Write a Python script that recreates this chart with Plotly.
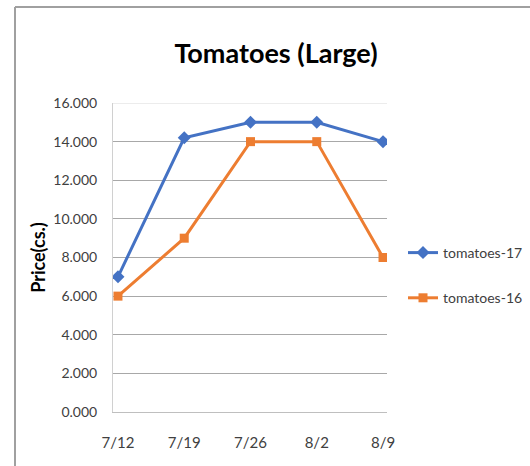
import plotly.graph_objects as go

categories = ["7/12", "7/19", "7/26", "8/2", "8/9"]
tomatoes_17 = [7.0, 14.2, 15.0, 15.0, 14.0]
tomatoes_16 = [6.0, 9.0, 14.0, 14.0, 8.0]
y_ticks = [0, 2, 4, 6, 8, 10, 12, 14, 16]
y_tick_labels = ["0.000", "2.000", "4.000", "6.000", "8.000", "10.000", "12.000", "14.000", "16.000"]

FONT = "Lato, Roboto, sans-serif"

fig = go.Figure()
fig.add_trace(go.Scatter(
    x=list(range(len(categories))), y=tomatoes_17, name="tomatoes-17", mode="lines+markers",
    line=dict(color="#4472C4", width=3), marker=dict(symbol="diamond", size=10, color="#4472C4"),
    legendgroup="a"))
fig.add_trace(go.Scatter(
    x=list(range(len(categories))), y=tomatoes_16, name="tomatoes-16", mode="lines+markers",
    line=dict(color="#ED7D31", width=3), marker=dict(symbol="square", size=9, color="#ED7D31"),
    legendgroup="b"))

W, H = 530, 466
L, R, T, B = 113, 387, 103, 412
pw, ph = R - L, B - T

def px(x):
    return (x - L) / pw

def py(y):
    return (B - y) / ph

fig.update_layout(
    width=W, height=H,
    margin=dict(l=L, r=W - R, t=T, b=H - B, autoexpand=False),
    paper_bgcolor="white", plot_bgcolor="white",
    font=dict(family=FONT, color="#404040", size=14),
    title=dict(text="<b>Tomatoes (Large)</b>", x=276 / W, xref="container", xanchor="center",
               y=1 - 54 / H, yref="container", yanchor="middle",
               font=dict(family=FONT, size=27, color="#000000")),
    legend=dict(x=px(403), y=py(237), xanchor="left", yanchor="top",
                font=dict(family=FONT, size=14, color="#404040"),
                tracegroupgap=24, bgcolor="rgba(0,0,0,0)"),
    showlegend=True,
    xaxis=dict(tickmode="array", tickvals=list(range(len(categories))), ticktext=categories,
               range=[-0.075, 4.06], showgrid=False, zeroline=False,
               showline=True, linecolor="#bfbfbf", linewidth=1,
               ticks="outside", ticklen=17, tickcolor="rgba(0,0,0,0)",
               tickfont=dict(family=FONT, size=15, color="#404040")),
    yaxis=dict(tickmode="array", tickvals=y_ticks, ticktext=y_tick_labels, range=[0, 16],
               showgrid=True, gridcolor="#a8a8a8", gridwidth=1, zeroline=False,
               showline=True, linecolor="#d0d0d0", linewidth=1,
               ticks="outside", ticklen=12, tickcolor="rgba(0,0,0,0)",
               tickfont=dict(family=FONT, size=14, color="#404040"),
               title=dict(text="<b>Price(cs.)</b>", standoff=2,
                          font=dict(family=FONT, size=18, color="#000000"))),
)

# faint top gridline
fig.add_shape(type="line", xref="paper", yref="y", x0=0, x1=1, y0=16, y1=16,
              line=dict(color="#e6e6e6", width=1.5), layer="above")
# outer frame lines (top and left)
fig.add_shape(type="line", xref="paper", yref="paper", x0=px(15), x1=px(531), y0=py(7), y1=py(7),
              line=dict(color="#a0a0a0", width=2))
fig.add_shape(type="line", xref="paper", yref="paper", x0=px(15), x1=px(15), y0=py(7), y1=py(467),
              line=dict(color="#a0a0a0", width=2))

fig.write_html("out.html", config={"displayModeBar": False},
               post_script="document.body.style.margin='0';")
